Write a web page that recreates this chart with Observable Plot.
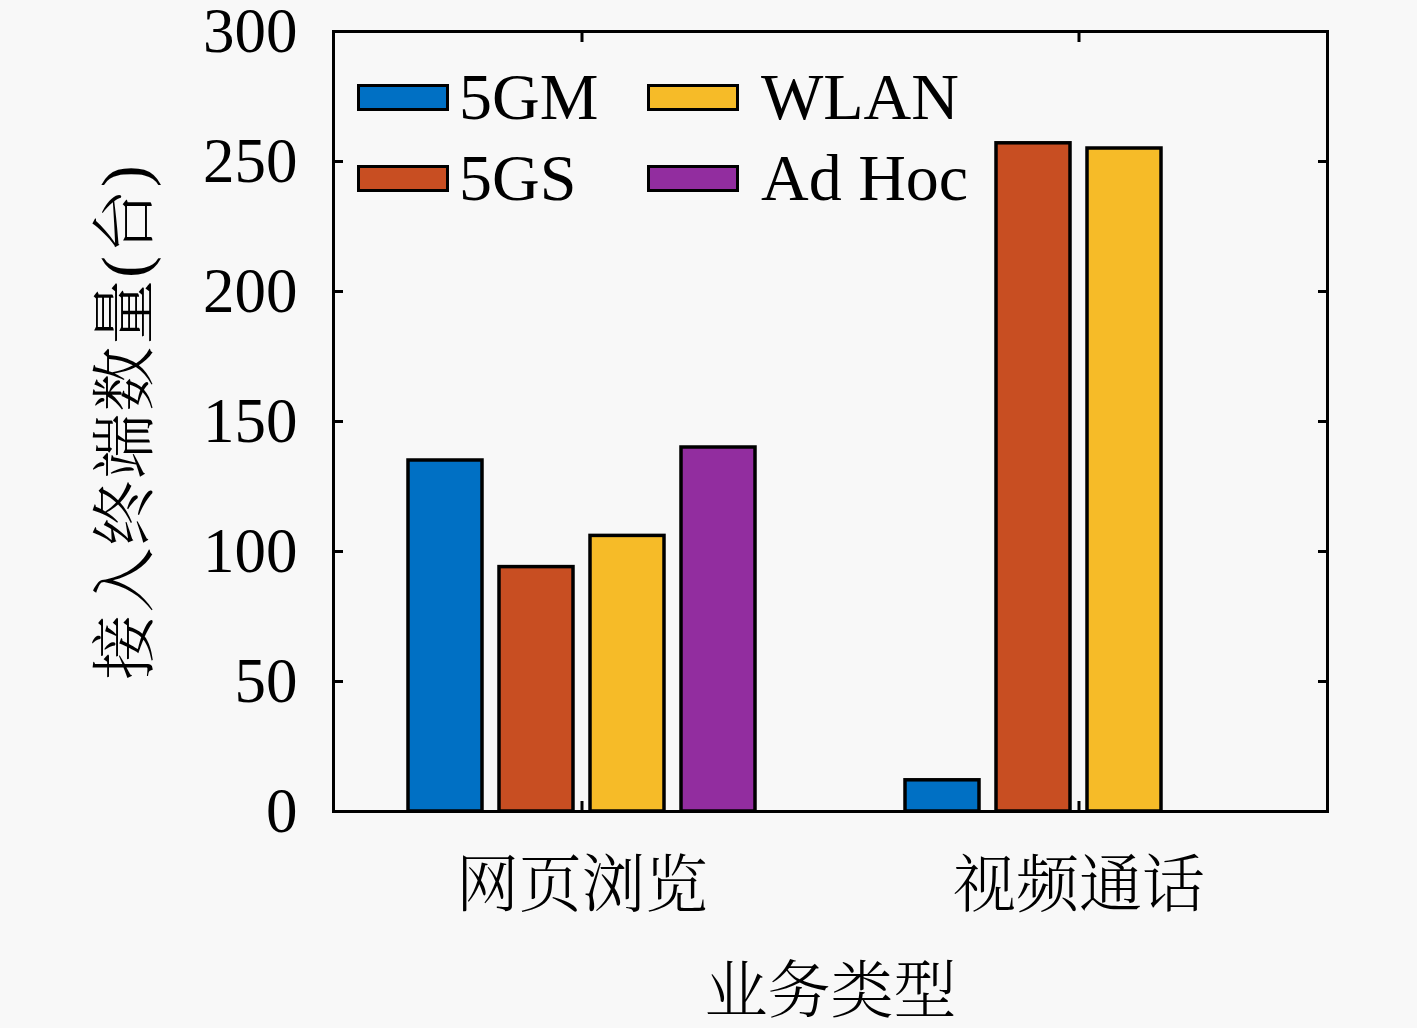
<!DOCTYPE html>
<html>
<head>
<meta charset="utf-8">
<script src="https://cdn.jsdelivr.net/npm/d3@7"></script>
<script src="https://cdn.jsdelivr.net/npm/@observablehq/plot@0.6"></script>
<style>
  html, body { margin: 0; padding: 0; background: #f8f8f8; }
  #wrap { position: relative; width: 1417px; height: 1028px; overflow: hidden; }
  #legend { position: absolute; left: 0; top: 0; font-family: "Liberation Serif", "Noto Serif CJK SC", "Noto Sans CJK SC", serif; font-size: 66px; color: #000; }
  .item { position: absolute; display: flex; align-items: center; height: 60px; }
  .sw { width: 86px; height: 21px; border: 3px solid #000; margin-right: 10px; }
  .lbl { line-height: 1; white-space: nowrap; }
</style>
</head>
<body>
<div id="wrap"><div id="legend"></div></div>
<script>
const categories = ["网页浏览", "视频通话"];
const series = ["5GM", "5GS", "WLAN", "Ad Hoc"];
const colors = ["#0070c4", "#c84e22", "#f6bb28", "#922d9f"];
const v5GM = [135, 12];
const v5GS = [94, 257];
const vWLAN = [106, 255];
const vAdHoc = [140, 0];
const yTicks = [0, 50, 100, 150, 200, 250, 300];
const yLabel = "接入终端数量(台)";
const xLabel = "业务类型";

const table = [];
[v5GM, v5GS, vWLAN, vAdHoc].forEach((vals, si) =>
  vals.forEach((v, ci) => table.push({category: categories[ci], series: series[si], value: v}))
);

const fontFamily = '"Liberation Serif", "Noto Serif CJK SC", "Noto Sans CJK SC", serif';

const chart = Plot.plot({
  width: 1417,
  height: 1028,
  marginLeft: 333,
  marginRight: 90,
  marginTop: 31,
  marginBottom: 217,
  style: {background: "transparent", fontFamily, fontSize: "62px", color: "#000", overflow: "visible"},
  fx: {domain: categories, padding: 0},
  x: {domain: series, paddingInner: 0.19, paddingOuter: 0.825, axis: null},
  y: {domain: [0, 300]},
  color: {domain: series, range: colors},
  marks: [
    Plot.barY(table, {fx: "category", x: "series", y: "value", fill: "series", stroke: "#000", strokeWidth: 3.5}),
    Plot.ruleY([0, 300], {stroke: "#000", strokeWidth: 3}),
    Plot.frame({anchor: "left", facetAnchor: "left", stroke: "#000", strokeWidth: 3}),
    Plot.frame({anchor: "right", facetAnchor: "right", stroke: "#000", strokeWidth: 3}),
    Plot.axisY(yTicks, {anchor: "left", tickSize: 10, dx: 10, text: null, label: null, strokeWidth: 3}),
    Plot.axisY(yTicks, {anchor: "right", tickSize: 10, dx: -10, text: null, label: null, strokeWidth: 3}),
    Plot.axisY(yTicks, {anchor: "left", tickSize: 0, tickPadding: 36, fontSize: 63, label: yLabel, labelAnchor: "center", labelOffset: 233, labelArrow: "none"}),
    Plot.axisFx({anchor: "bottom", tickSize: 10, dy: -10, text: null, label: null, strokeWidth: 3}),
    Plot.axisFx({anchor: "top", tickSize: 10, dy: 10, text: null, label: null, strokeWidth: 3}),
    Plot.axisFx({anchor: "bottom", tickSize: 0, tickPadding: 50, fontSize: 63, label: xLabel, labelAnchor: "center", labelOffset: 200})
  ]
});

d3.select(chart).selectAll("text").style("font-weight", "300");
d3.select(chart).selectAll("text").filter(function () { return this.textContent === yLabel; })
  .style("font-size", "65px").style("letter-spacing", "2px");
document.getElementById("wrap").prepend(chart);

const legend = document.getElementById("legend");
series.forEach((s, i) => {
  const col = Math.floor(i / 2), row = i % 2;
  const item = document.createElement("div");
  item.className = "item";
  item.style.left = (357 + col * 290) + "px";
  item.style.top = (67 + row * 81) + "px";
  const sw = document.createElement("div");
  sw.className = "sw";
  sw.style.background = colors[i];
  if (col === 1) sw.style.marginRight = "22px";
  const lbl = document.createElement("span");
  lbl.className = "lbl";
  lbl.textContent = s;
  item.appendChild(sw);
  item.appendChild(lbl);
  legend.appendChild(item);
});
</script>
</body>
</html>
